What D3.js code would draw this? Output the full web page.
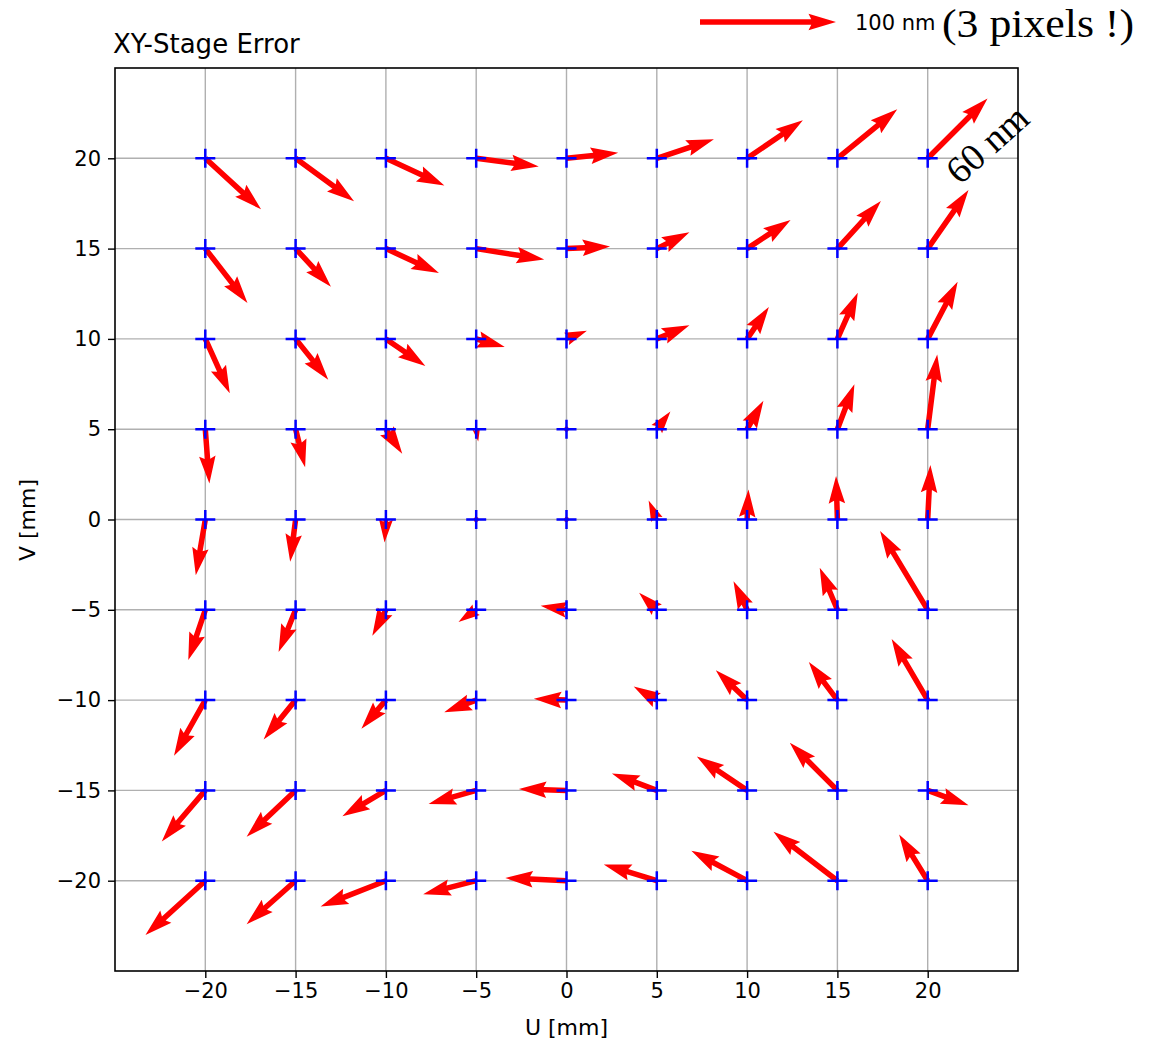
<!DOCTYPE html>
<html><head><meta charset="utf-8">
<script src="https://cdn.jsdelivr.net/npm/d3@7"></script>
<style>
body{margin:0;background:#fff}
svg{display:block}
text{font-family:"DejaVu Sans",sans-serif}
</style>
</head><body>
<svg id="c" width="1163" height="1041"></svg>
<script>
// Grid positions (mm)
const gridU = [-20, -15, -10, -5, 0, 5, 10, 15, 20];
const gridV = [20, 15, 10, 5, 0, -5, -10, -15, -20];
const tickValues = [-20, -15, -10, -5, 0, 5, 10, 15, 20];

// Stage error components (nm); rows follow gridV, columns follow gridU
const errU = [
  [41, 43, 43, 46, 38, 42, 41, 44, 44],
  [31, 26, 39, 50, 32, 24, 32, 32, 30],
  [18, 24, 29, 21, 15, 24, 16, 15, 22],
  [3, 7, 12, 1.5, 1, 10, 12, 12.5, 7],
  [-7, -4, -1, -2.5, -4, -6, 1, -1, 2],
  [-12.5, -12.5, -10, -13, -19, -13, -10, -13, -35],
  [-23, -23.5, -18, -23.5, -24, -17, -23, -21, -26.5],
  [-32, -36, -32, -35, -35, -33, -37, -35, 30],
  [-44, -36, -48, -39, -45, -39, -41, -47, -21]
];
const errV = [
  [-37.5, -31.5, -20, -6, 4, 14, 28, 36, 44],
  [-40, -28, -18, -8, 1.5, 12, 21, 35, 43],
  [-40, -30, -20, -6, 6, 10, 23.5, 34, 42],
  [-40, -28, -18, -9, 0, 13, 21, 33, 55],
  [-41, -31, -17, -2.5, 0.5, 14, 22, 32, 40],
  [-37, -31, -19, -9, 3, 12.5, 21, 31, 58],
  [-41, -29, -21, -9, 1, 10, 22, 28, 45],
  [-37.5, -34, -19, -10, 1, 12.5, 25, 35, -11],
  [-40, -32, -19, -10, 2, 12, 22, 36, 34]
];

const keyValue = 100;          // nm
const keyLabel = "100 nm";
const noteLabel = "(3 pixels !)";
const arrowNote = "60 nm";
const titleText = "XY-Stage Error";
const xLabel = "U [mm]";
const yLabel = "V [mm]";

// ---------- layout ----------
const svg = d3.select("#c");
const L = 115, R = 1018, T = 68, B = 971;
const x = d3.scaleLinear().domain([-25, 25]).range([L, R]);
const y = d3.scaleLinear().domain([-25, 25]).range([B, T]);
const arrowLen = d3.scaleLinear().domain([0, 100]).range([0, 136]); // nm -> px
const shaftW = 5.5;

function arrowPath(x0, y0, dx, dy, w) {
  const Lw = Math.hypot(dx, dy) / w;
  let pts;
  if (Lw < 1) {
    pts = d3.range(6).map(i => [Math.cos(i * Math.PI / 3) * 0.5, Math.sin(i * Math.PI / 3) * 0.5]);
  } else {
    const HL = 5, HAL = 4.5, HW = 3, minsh = 5;
    let X, Y;
    if (Lw < minsh) {
      const s = Lw / minsh;
      X = [0, minsh - HAL, minsh - HL, minsh].map(v => v * s);
      Y = [0.5, 0.5, HW / 2, 0].map(v => v * s);
    } else {
      X = [0, Lw - HAL, Lw - HL, Lw];
      Y = [0.5, 0.5, HW / 2, 0];
    }
    const ii = [0, 1, 2, 3, 2, 1, 0];
    pts = ii.map((k, j) => [X[k], j >= 3 ? -Y[k] : Y[k]]);
  }
  const th = Math.atan2(dy, dx), c = Math.cos(th), s = Math.sin(th);
  return "M" + pts.map(([a, b]) => [(x0 + (a * c - b * s) * w).toFixed(2), (y0 + (a * s + b * c) * w).toFixed(2)].join(",")).join("L") + "Z";
}

// grid
const g = svg.append("g");
g.selectAll(".gx").data(tickValues).join("line")
  .attr("x1", d => x(d)).attr("x2", d => x(d)).attr("y1", T).attr("y2", B)
  .attr("stroke", "#b0b0b0").attr("stroke-width", 1.4);
g.selectAll(".gy").data(tickValues).join("line")
  .attr("y1", d => y(d)).attr("y2", d => y(d)).attr("x1", L).attr("x2", R)
  .attr("stroke", "#b0b0b0").attr("stroke-width", 1.4);

// arrows
const vecs = [];
gridV.forEach((v, i) => gridU.forEach((u, j) => vecs.push({u, v, eu: errU[i][j], ev: errV[i][j]})));

svg.append("g").selectAll("path").data(vecs).join("path")
  .attr("d", d => arrowPath(x(d.u), y(d.v), arrowLen(d.eu), -arrowLen(d.ev), shaftW))
  .attr("fill", "#ff0000").attr("stroke", "none");

// markers
svg.append("g").selectAll("path").data(vecs).join("path")
  .attr("d", d => `M${x(d.u) - 10},${y(d.v)}H${x(d.u) + 10}M${x(d.u)},${y(d.v) - 9.5}V${y(d.v) + 9.5}`)
  .attr("stroke", "#0000ff").attr("stroke-width", 2.5).attr("fill", "none");

// frame
svg.append("rect").attr("x", L).attr("y", T).attr("width", R - L).attr("height", B - T)
  .attr("fill", "none").attr("stroke", "#000").attr("stroke-width", 1.6);

// axes
const ax = svg.append("g").attr("transform", `translate(0,${B})`)
  .call(d3.axisBottom(x).tickValues(tickValues).tickSize(7).tickPadding(5));
ax.select(".domain").remove();
ax.selectAll("text").attr("font-size", 21).attr("font-family", "DejaVu Sans").attr("fill", "#000");
ax.selectAll("line").attr("stroke-width", 1.4);

const ay = svg.append("g").attr("transform", `translate(${L},0)`)
  .call(d3.axisLeft(y).tickValues(tickValues).tickSize(7).tickPadding(7));
ay.select(".domain").remove();
ay.selectAll("text").attr("font-size", 21).attr("font-family", "DejaVu Sans").attr("fill", "#000");
ay.selectAll("line").attr("stroke-width", 1.4);

// labels
svg.append("text").attr("x", 113).attr("y", 53).attr("font-size", 26).text(titleText);
svg.append("text").attr("x", (L + R) / 2).attr("y", 1035).attr("text-anchor", "middle").attr("font-size", 22).text(xLabel);
svg.append("text").attr("transform", "translate(35,520) rotate(-90)").attr("text-anchor", "middle").attr("font-size", 22).text(yLabel);

// key
svg.append("path").attr("d", arrowPath(700, 22, arrowLen(keyValue), 0, shaftW)).attr("fill", "#ff0000");
svg.append("text").attr("x", 855).attr("y", 29.5).attr("font-size", 21).text(keyLabel);
svg.append("text").attr("x", 942).attr("y", 37).attr("font-size", 41)
  .attr("textLength", 192).attr("lengthAdjust", "spacingAndGlyphs")
  .style("font-family", "'Liberation Serif', serif").text(noteLabel);
svg.append("text").attr("transform", "translate(987,144) rotate(-42)")
  .attr("text-anchor", "middle").attr("dominant-baseline", "central").attr("font-size", 38)
  .style("font-family", "'Liberation Serif', serif").text(arrowNote);
</script>
</body></html>
